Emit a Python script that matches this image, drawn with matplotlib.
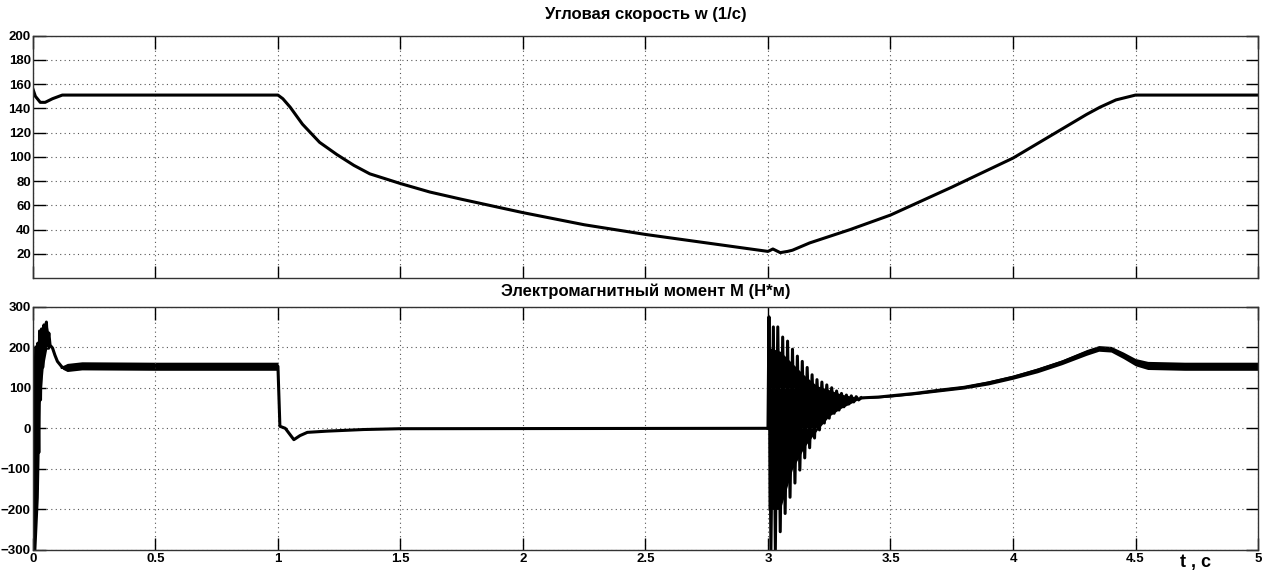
import matplotlib
matplotlib.use("Agg")
import matplotlib.pyplot as plt
import numpy as np

plt.rcParams['font.family'] = ['Liberation Sans', 'DejaVu Sans']
plt.rcParams['font.weight'] = 'bold'

# angular speed w (1/c)
t_w = [0.0, 0.01, 0.03, 0.05, 0.08, 0.12, 0.2, 1.0, 1.02, 1.05, 1.1, 1.17, 1.24,
       1.31, 1.375, 1.5, 1.62, 1.75, 2.0, 2.25, 2.5, 2.75, 3.0, 3.02, 3.05, 3.08,
       3.1, 3.17, 3.335, 3.5, 3.75, 4.0, 4.2, 4.3, 4.355, 4.42, 4.5, 5.0]
w = [156, 150, 145, 145, 148, 151, 151, 151, 148, 141, 127, 112, 102,
     93, 86, 78, 71, 65, 54, 44, 36, 29, 22, 24, 21, 22,
     23, 29, 40, 52, 75, 99, 123, 135, 141, 147, 151, 151]

# torque M, start-up transient (spikes and filled envelope)
t_start = [0.0, 0.003, 0.006, 0.01, 0.013, 0.017, 0.02, 0.024, 0.027, 0.031, 0.035,
           0.04, 0.045, 0.05, 0.055, 0.06, 0.065, 0.07, 0.08, 0.09, 0.1, 0.12, 0.14]
m_start = [-300, -300, 150, -250, 200, -150, 210, -60, 240, 70, 245,
           150, 255, 200, 262, 205, 235, 205, 198, 180, 165, 150, 150]
t_start_env = [0.0, 0.005, 0.012, 0.022, 0.029, 0.042, 0.056, 0.065, 0.07]
m_start_hi = [150, 205, 205, 210, 245, 245, 262, 230, 205]
m_start_lo = [-300, -300, -300, -170, 60, 150, 195, 195, 200]

# torque M, mean value and ripple half-width
t_mean = [0.12, 0.14, 0.2, 0.5, 1.0, 1.008, 1.03, 1.065, 1.09, 1.12, 1.2, 1.35, 1.5, 3.0]
m_mean = [150, 150, 154, 153, 153, 5, 0, -28, -18, -10, -7, -3, -1, 0]
m_rip = [4, 10, 10, 10, 10, 0, 0, 0, 0, 0, 0, 0, 0, 0]

# torque M, oscillation after t = 3 s
t_osc = [3.000, 3.004, 3.012, 3.022, 3.030, 3.040, 3.050, 3.060, 3.070, 3.080,
         3.090, 3.100, 3.110, 3.120, 3.130, 3.140, 3.150, 3.160, 3.170, 3.180,
         3.190, 3.200, 3.210, 3.220, 3.230, 3.240, 3.250, 3.260, 3.270, 3.280,
         3.290, 3.300, 3.310, 3.320, 3.330, 3.340, 3.350, 3.360, 3.370, 3.380]
m_osc = [0, 275, -300, 250, -300, 250, -255, 225, -210, 215,
         -170, 195, -135, 178, -103, 165, -73, 150, -48, 132,
         -24, 120, -4, 114, 13, 107, 25, 100, 37, 92,
         45, 86, 53, 82, 60, 80, 65, 78, 70, 75]
t_osc_env = [3.0, 3.05, 3.1, 3.15, 3.2, 3.25, 3.3, 3.35, 3.38]
m_osc_hi = [200, 190, 160, 130, 105, 95, 84, 78, 75]
m_osc_lo = [-200, -200, -100, -45, -5, 30, 50, 65, 75]

# torque M, after the oscillation
t_end = [3.38, 3.45, 3.5, 3.6, 3.7, 3.8, 3.9, 4.0, 4.1, 4.2, 4.3, 4.35, 4.4, 4.45,
         4.5, 4.55, 4.7, 5.0]
m_end = [75, 77, 80, 86, 94, 101, 112, 126, 143, 163, 187, 197, 195, 180,
         163, 155, 153, 153]
m_end_rip = [2, 2, 3, 3, 4, 4, 5, 5, 6, 6, 7, 7, 7, 8, 9, 10, 10, 10]

fig = plt.figure(figsize=(12.66, 5.71), dpi=100)
ax1 = fig.add_axes([0.026, 0.513, 0.9677, 0.4245])
ax2 = fig.add_axes([0.026, 0.0368, 0.9677, 0.4262])

lw = 2.2
ax1.plot(t_w, w, color='black', lw=lw)

ax2.plot(t_start, m_start, color='black', lw=lw)
ax2.fill_between(t_start_env, m_start_lo, m_start_hi, color='black', lw=0)
ax2.plot(t_mean, m_mean, color='black', lw=lw)
ax2.fill_between(t_mean, np.array(m_mean) - np.array(m_rip),
                 np.array(m_mean) + np.array(m_rip), color='black', lw=0)
ax2.plot(t_osc, m_osc, color='black', lw=lw)
ax2.fill_between(t_osc_env, m_osc_lo, m_osc_hi, color='black', lw=0)
ax2.plot(t_end, m_end, color='black', lw=lw)
ax2.fill_between(t_end, np.array(m_end) - np.array(m_end_rip),
                 np.array(m_end) + np.array(m_end_rip), color='black', lw=0)

for ax in (ax1, ax2):
    ax.set_xlim(0, 5)
    ax.set_xticks([0, 0.5, 1, 1.5, 2, 2.5, 3, 3.5, 4, 4.5, 5])
    ax.grid(True, linestyle=(0, (1, 3)), color='#555555', lw=0.8)
    ax.tick_params(direction='in', length=9, width=1, top=True, right=True,
                   labelsize=9.5, pad=1.5)
    for s in ax.spines.values():
        s.set_linewidth(1.0)
        s.set_color('#333333')
    for lab in ax.get_xticklabels() + ax.get_yticklabels():
        lab.set_fontweight('bold')

ax1.set_ylim(0, 200)
ax1.set_yticks([20, 40, 60, 80, 100, 120, 140, 160, 180, 200])
ax1.set_xticklabels([])
ax1.set_title('Угловая скорость w (1/c)', fontsize=12, fontweight='bold', pad=12)

ax2.set_ylim(-300, 300)
ax2.set_yticks([-300, -200, -100, 0, 100, 200, 300])
ax2.set_xticklabels(['0', '0.5', '1', '1.5', '2', '2.5', '3', '3.5', '4', '4.5', '5'],
                    fontweight='bold')
ax2.tick_params(axis='x', pad=2)
ax2.set_title('Электромагнитный момент M (Н*м)', fontsize=12, fontweight='bold', pad=8)

fig.text(0.944, 0.015, 't , c', fontsize=13, fontweight='bold', ha='center', va='center')

fig.savefig('out.png', dpi=100)
